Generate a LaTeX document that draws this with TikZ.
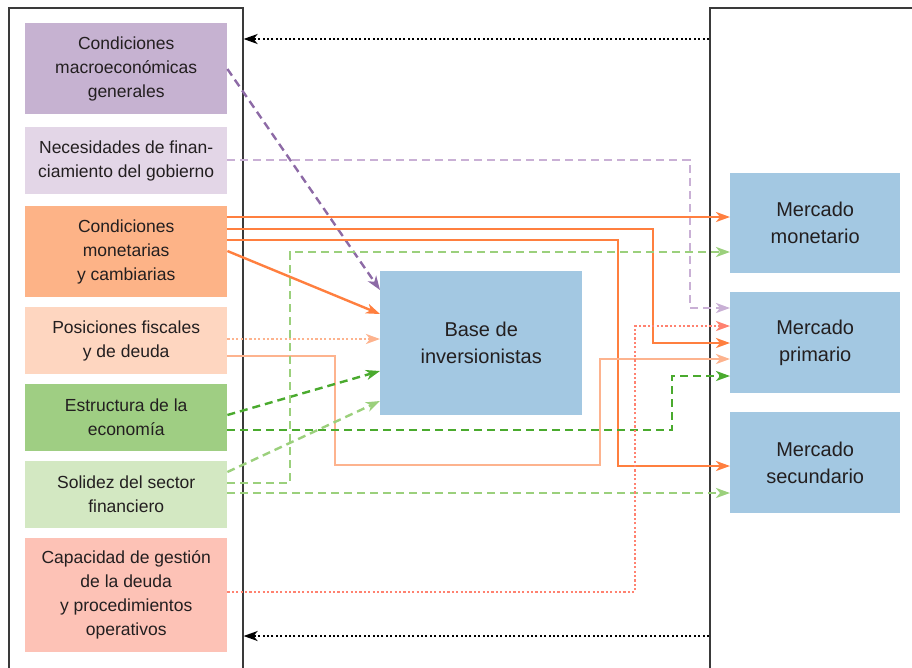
\documentclass[tikz,border=0pt]{standalone}
\usepackage{fontspec}
\setmainfont{Liberation Sans}
\usetikzlibrary{arrows.meta}

\definecolor{txt}{HTML}{231F20}
\definecolor{panelgray}{HTML}{3A3A3A}
\definecolor{cpurbox}{HTML}{C6B2D1}
\definecolor{clavbox}{HTML}{E3D6E7}
\definecolor{corgbox}{HTML}{FDB387}
\definecolor{cpchbox}{HTML}{FED6C0}
\definecolor{cgrnbox}{HTML}{9FCE83}
\definecolor{cltgbox}{HTML}{D3E8C2}
\definecolor{csalbox}{HTML}{FDC2B6}
\definecolor{mblue}{HTML}{A3C8E2}
\definecolor{cpurl}{HTML}{8D6AA6}
\definecolor{clavl}{HTML}{C9B0D5}
\definecolor{corgl}{HTML}{FF7F3F}
\definecolor{cpchl}{HTML}{FDB38E}
\definecolor{cgrnl}{HTML}{4AAA2E}
\definecolor{cltgl}{HTML}{9BD07C}
\definecolor{csall}{HTML}{FF8270}

\tikzset{
  factor/.style={rectangle, anchor=north west, inner sep=0pt, minimum width=202pt,
    align=center, text=txt, font=\fontsize{17.5}{24}\selectfont},
  market/.style={rectangle, anchor=north west, fill=mblue, inner sep=0pt, minimum width=170pt,
    minimum height=101pt, align=center, text=txt, font=\fontsize{20}{27}\selectfont},
  panel/.style={rectangle, anchor=north west, draw=panelgray, line width=1.6pt, inner sep=0pt},
  solidarrow/.style={line width=2.4pt, -{Stealth[length=14pt,width=10pt,inset=4pt]}},
  dasharrow/.style={solidarrow, dash pattern=on 8pt off 5pt},
  dotarrow/.style={solidarrow, dash pattern=on 2.2pt off 2.2pt},
}

\begin{document}
\begin{tikzpicture}[x=1pt,y=-1pt]
    \useasboundingbox (0,0) rectangle (912,667);

    % Panels
    \node[panel, minimum width=234pt, minimum height=720pt] (lpanel) at (8,7) {};
    \node[panel, minimum width=260pt, minimum height=720pt] (rpanel) at (709,7) {};

    % Factors
    \node[factor, fill=cpurbox, minimum height=91pt] (cmac) at (25,23) {Condiciones\\macroeconómicas\\generales};
    \node[factor, fill=clavbox, minimum height=67pt] (nec) at (25,127) {Necesidades de finan-\\ciamiento del gobierno};
    \node[factor, fill=corgbox, minimum height=91pt] (cmon) at (25,206) {Condiciones\\monetarias\\y cambiarias};
    \node[factor, fill=cpchbox, minimum height=67pt] (pfis) at (25,307) {Posiciones fiscales\\y de deuda};
    \node[factor, fill=cgrnbox, minimum height=67pt] (estr) at (25,384) {Estructura de la\\economía};
    \node[factor, fill=cltgbox, minimum height=67pt] (sol) at (25,461) {Solidez del sector\\financiero};
    \node[factor, fill=csalbox, minimum height=114pt] (cap) at (25,538) {Capacidad de gestión\\de la deuda\\y procedimientos\\operativos};

    % Investor base and markets
    \node[market, minimum width=202pt, minimum height=144pt] (base) at (380,271) {Base de\\inversionistas};
    \node[market, minimum height=100pt] (mmon) at (730,173) {Mercado\\monetario};
    \node[market] (mpri) at (730,292) {Mercado\\primario};
    \node[market] (msec) at (730,412) {Mercado\\secundario};

    % Feedback
    \draw[dotarrow, black, line width=2pt, dash pattern=on 2pt off 2.4pt] (rpanel.west |- 0,39) -- (lpanel.east |- 0,39);
    \draw[dotarrow, black, line width=2pt, dash pattern=on 2pt off 2.4pt] (rpanel.west |- 0,636) -- (lpanel.east |- 0,636);

    % Macro and financing needs
    \draw[dasharrow, cpurl] (cmac.east |- 0,69) -- (base.west |- 0,290);
    \draw[dasharrow, clavl] (nec.east |- 0,160) -| (690,308) -- (mpri.west |- 0,308);

    % Monetary conditions
    \draw[solidarrow, corgl] (cmon.east |- 0,217) -- (mmon.west |- 0,217);
    \draw[solidarrow, corgl] (cmon.east |- 0,229) -| (653,343) -- (mpri.west |- 0,343);
    \draw[solidarrow, corgl] (cmon.east |- 0,240) -| (618,466) -- (msec.west |- 0,466);
    \draw[solidarrow, corgl] (cmon.east |- 0,251) -- (base.west |- 0,314);

    % Fiscal positions
    \draw[dotarrow, cpchl] (pfis.east |- 0,339) -- (base.west |- 0,339);
    \draw[solidarrow, cpchl] (pfis.east |- 0,356) -| (335,465) -| (600,359) -- (mpri.west |- 0,359);

    % Structure of the economy
    \draw[dasharrow, cgrnl] (estr.east |- 0,415) -- (base.west |- 0,371);
    \draw[dasharrow, cgrnl] (estr.east |- 0,430) -| (672,376) -- (mpri.west |- 0,376);

    % Financial sector
    \draw[dasharrow, cltgl] (sol.east |- 0,472) -- (base.west |- 0,401);
    \draw[dasharrow, cltgl] (sol.east |- 0,483) -| (290,252) -- (mmon.west |- 0,252);
    \draw[dasharrow, cltgl] (sol.east |- 0,493) -- (msec.west |- 0,493);

    % Debt management capacity
    \draw[dotarrow, csall] (cap.east |- 0,592) -| (635,326) -- (mpri.west |- 0,326);
\end{tikzpicture}
\end{document}
